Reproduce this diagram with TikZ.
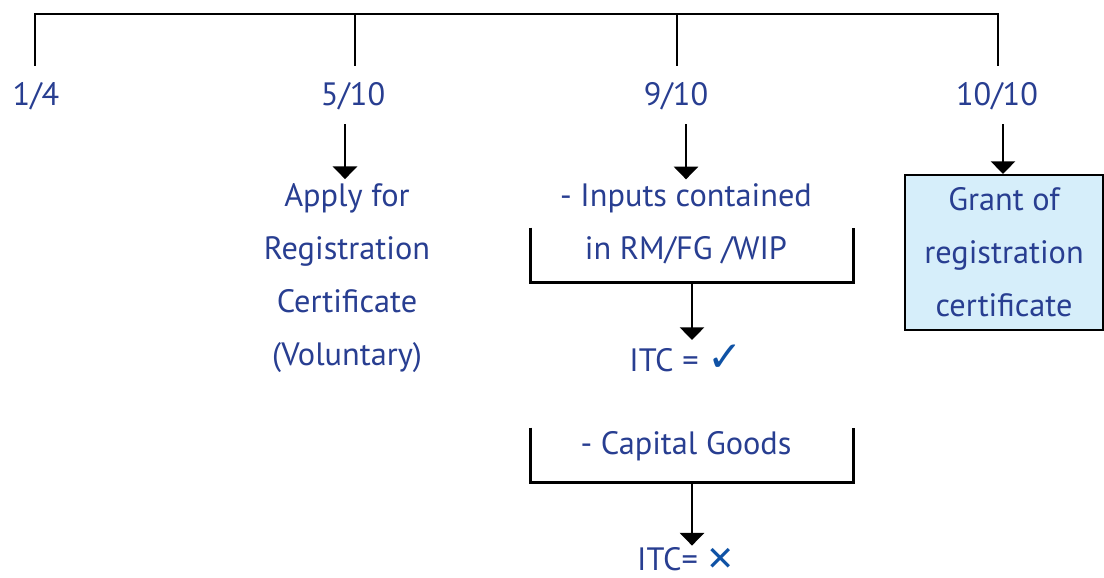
\documentclass[tikz,border=0pt]{standalone}
\usepackage{fontspec}
\setmainfont{PT Sans}
\newfontfamily\symfont{DejaVu Sans}
\usetikzlibrary{arrows.meta, positioning}
\definecolor{txtblue}{RGB}{40,62,145}
\definecolor{markblue}{RGB}{15,82,165}
\definecolor{boxfill}{RGB}{214,238,250}

\begin{document}
\begin{tikzpicture}[
  x=0.025cm, y=-0.025cm,
  date/.style={font=\fontsize{23}{37.6}\selectfont, text=txtblue, inner sep=0pt},
  info/.style={font=\fontsize{23}{37.6}\selectfont, text=txtblue, align=center, inner sep=3pt},
  bracket/.style={minimum width=8.05cm, minimum height=1.35cm, inner sep=0pt},
  grantbox/.style={draw, line width=1.4pt, fill=boxfill, minimum width=4.95cm, minimum height=3.875cm, align=center, font=\fontsize{23}{37.6}\selectfont, text=txtblue},
  arrow/.style={-{Triangle[width=17pt,length=9pt]}, line width=2pt},
  rule/.style={line width=2pt},
]
  \useasboundingbox (0,0) rectangle (1104,578);

  % time line
  \coordinate (u1) at (35,14);
  \coordinate (u2) at (355,14);
  \coordinate (u3) at (677,14);
  \coordinate (u4) at (998,14);
  \coordinate (t1) at (35,66);
  \coordinate (t2) at (355,66);
  \coordinate (t3) at (677,66);
  \coordinate (t4) at (998,66);
  \draw[rule] (t1) -- (u1) -- (u4) -- (t4);
  \draw[rule] (u2) -- (t2);
  \draw[rule] (u3) -- (t3);

  \node[date] (d1) at (36,96) {1/4};
  \node[date] (d2) at (353,96) {5/10};
  \node[date] (d3) at (676,96) {9/10};
  \node[date] (d4) at (997,96) {10/10};

  % steps
  \node[info] (apply) at (347,278) {Apply for\\Registration\\Certificate\\(Voluntary)};
  \node[info] (inputs) at (686,224) {- Inputs contained\\in RM/FG /WIP};
  \node[bracket] (inbrk) at (692,255) {};
  \node[info] (itcyes) at (686,358) {ITC = {\symfont\fontsize{30}{30}\selectfont\color{markblue}✓}};
  \node[info] (capital) at (686,446) {- Capital Goods};
  \node[bracket] (capbrk) at (692,455) {};
  \node[info, inner sep=1pt] (itcno) at (686,559) {ITC= {\symfont\fontsize{24}{24}\selectfont\color{markblue}✕}};
  \node[grantbox] (grant) at (1004,252.5) {Grant of\\registration\\certificate};

  \draw[rule] (inbrk.north west) -- (inbrk.south west) -- (inbrk.south east) -- (inbrk.north east);
  \draw[rule] (capbrk.north west) -- (capbrk.south west) -- (capbrk.south east) -- (capbrk.north east);

  % arrows
  \draw[arrow, shorten <=10pt] (d2.south -| 345,0) -- (apply.north -| 345,0);
  \draw[arrow, shorten <=10pt] (d3.south -| 686,0) -- (inputs.north -| 686,0);
  \draw[arrow, shorten <=10pt] (d4.south -| 1003,0) -- (grant.north -| 1003,0);
  \draw[arrow] (inbrk.south) -- (inbrk.south |- itcyes.north);
  \draw[arrow] (capbrk.south) -- (capbrk.south |- itcno.north);
\end{tikzpicture}
\end{document}
